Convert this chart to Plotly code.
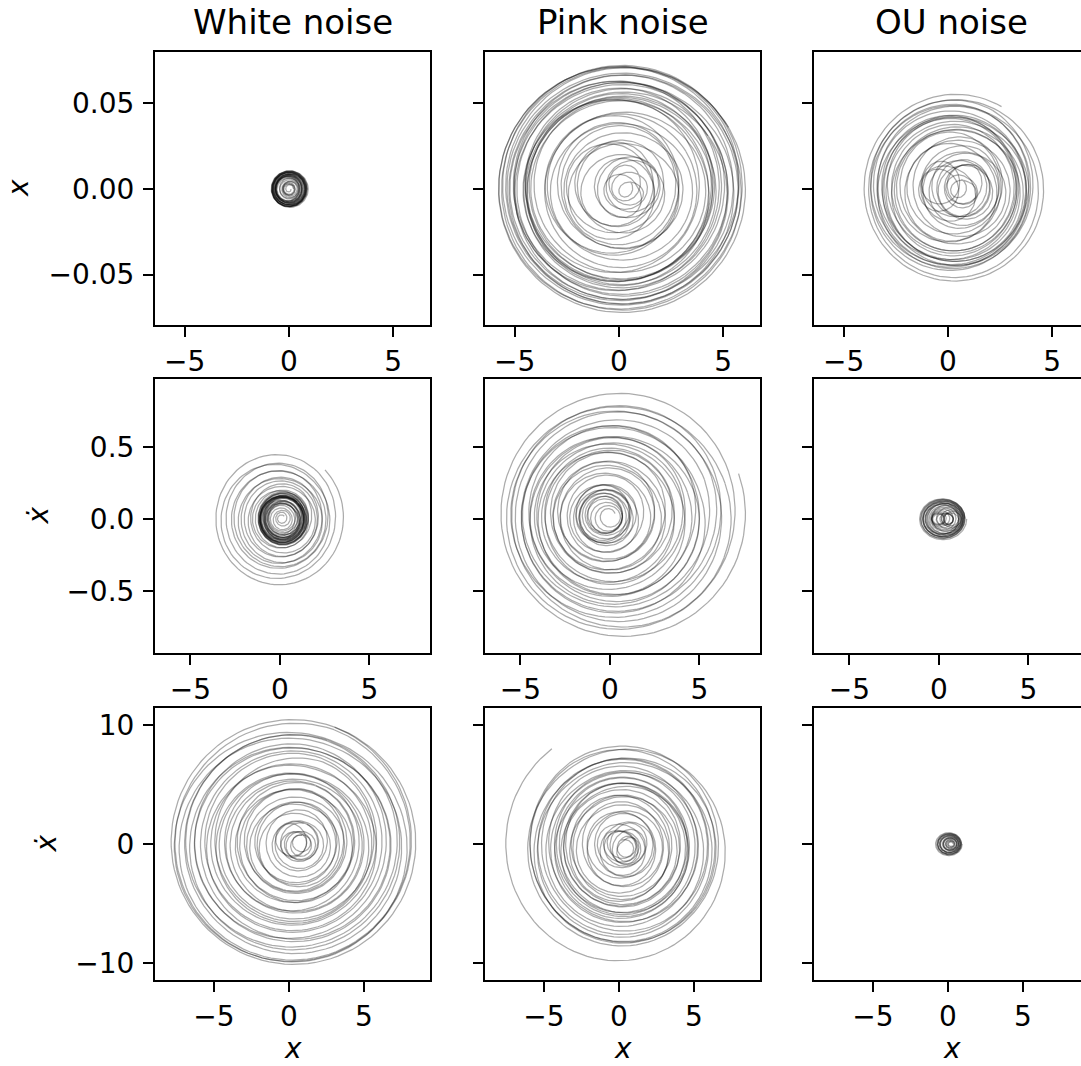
import numpy as np
import plotly.graph_objects as go

# ---------------- text ----------------
TITLES = ["White noise", "Pink noise", "OU noise"]
YLABELS = ["<i>x</i>", "<i>ẋ</i>", "<i>ẋ</i>"]
XLABEL = "<i>x</i>"

X_TICKVALS = [-5, 0, 5]
X_TICKTEXT = ["−5", "0", "5"]
Y_TICKVALS = [[-0.05, 0.0, 0.05], [-0.5, 0.0, 0.5], [-10, 0, 10]]
Y_TICKTEXT = [["−0.05", "0.00", "0.05"], ["−0.5", "0.0", "0.5"], ["−10", "0", "10"]]

# axis ranges (per row)
X_RANGE = [[-6.42, 6.77], [-6.98, 8.38], [-8.93, 9.40]]
Y_RANGE = [[-0.0795, 0.0801], [-0.931, 0.972], [-11.43, 11.43]]

# ---------------- trajectory data ----------------
# per loop: horizontal amplitude (RX), horizontal centre (CX), vertical centre in x-units (CYU)
# row 1
W1_RX = [0.1, 0.25, 0.4, 0.55, 0.7, 0.8, 0.88, 0.84, 0.76, 0.68, 0.6, 0.66, 0.74, 0.82, 0.87, 0.8,
         0.7, 0.62, 0.55, 0.62, 0.72, 0.8, 0.85, 0.78, 0.68, 0.58, 0.5, 0.42, 0.35, 0.3, 0.26, 0.22]
W1_CX = [0.0, 0.05, 0.05, 0.0, -0.05, 0.0, 0.05, 0.05, 0.0, -0.05, 0.0, 0.05, 0.05, 0.0, 0.0, 0.05,
         0.05, 0.0, -0.05, 0.0, 0.05, 0.0, 0.0, 0.05, 0.0, -0.05, 0.0, 0.05, 0.05, 0.0, 0.0, 0.0]
W1_CYU = None
P1_RX = [0.3, 0.6, 0.9, 0.7, 1.1, 1.4, 1.2, 1.7, 2.0, 1.8, 2.3, 2.1, 2.6, 2.9, 2.7, 3.1, 3.4, 3.2,
         3.6, 3.9, 4.1, 4.3, 4.45, 4.5, 4.4, 4.6, 4.5, 4.35, 4.7, 4.9, 5.1, 4.85, 5.3, 5.55, 5.8,
         5.95, 5.75, 5.5, 5.25, 5.0, 5.35, 5.65, 5.9]
P1_CX = [0.3, 0.6, 0.1, 0.7, -0.1, 0.5, 0.8, 0.0, -0.4, 0.4, -0.1, -0.5, 0.3, -0.2, 0.4, -0.3, 0.2,
         -0.4, 0.1, 0.3, -0.3, 0.2, 0.0, -0.2, 0.2, -0.1, 0.2, -0.1, 0.2, 0.3, 0.0, -0.1, 0.2, 0.15,
         0.1, 0.15, 0.0, 0.3, 0.0, 0.2, 0.1, 0.2, 0.15]
P1_CYU = [0.2, -0.3, 0.4, 0.0, -0.4, 0.3, 0.1, -0.2, 0.4, -0.3, 0.2, 0.0, -0.4, 0.3, -0.1, 0.2,
          -0.3, 0.4, 0.0, -0.2, 0.3, -0.1, 0.2, -0.3, 0.1, 0.3, -0.2, 0.0, 0.2, -0.3, 0.1, 0.3,
          -0.2, 0.0, 0.2, -0.1, 0.1, 0.3, -0.2, 0.0, 0.2, -0.1, 0.0]
O1_RX = [0.3, 0.6, 0.9, 0.7, 1.1, 1.4, 1.2, 1.7, 1.5, 1.0, 0.8, 1.3, 1.8, 2.0, 2.3, 2.1, 2.6, 2.4,
         2.9, 3.2, 3.0, 3.4, 3.6, 3.3, 3.7, 3.9, 3.6, 3.2, 2.8, 3.1, 3.5, 3.8, 4.0, 4.2, 4.45]
O1_CX = [0.5, 0.7, 0.8, 0.6, 0.9, 0.8, 0.7, 0.8, 0.6, -0.4, -0.4, -0.2, 0.6, 0.8, 0.4, 0.1, 0.5,
         0.0, 0.4, 0.1, 0.5, -0.1, 0.3, 0.5, 0.0, 0.2, 0.4, 0.1, 0.3, 0.5, 0.2, 0.1, 0.3, 0.35, 0.35]
O1_CYU = [0.2, -0.2, 0.3, -0.1, 0.1, -0.3, 0.2, 0.0, -0.2, 0.3, 0.1, -0.2, 0.3, -0.3, 0.2, 0.0,
          -0.3, 0.3, -0.1, 0.2, -0.3, 0.1, 0.3, -0.2, 0.0, 0.3, -0.3, 0.1, 0.2, -0.2, 0.0, 0.2,
          -0.1, 0.0, 0.0]
# row 2
W2_RX = [3.7, 3.3, 3.0, 2.8, 2.6, 2.45, 2.3, 2.15, 2.0, 1.85, 1.7, 1.55, 1.45, 1.35, 1.25, 1.15,
         1.3, 1.4, 1.2, 1.05, 0.9, 1.1, 1.3, 1.4, 1.25, 1.05, 0.85, 0.7, 0.9, 1.1, 1.3, 1.2, 1.0,
         0.8, 1.0, 1.2, 1.35, 1.15, 0.95, 0.75, 0.6, 0.45, 0.3, 0.2]
W2_CX = [-0.1, -0.15, -0.2, -0.1, 0.0, -0.1, 0.1, 0.0, 0.1, 0.15, 0.1, 0.05, 0.15, 0.2, 0.1, 0.15,
         0.2, 0.1, 0.15, 0.2, 0.1, 0.15, 0.1, 0.2, 0.15, 0.1, 0.2, 0.1, 0.15, 0.2, 0.1, 0.15, 0.2,
         0.15, 0.1, 0.2, 0.15, 0.1, 0.2, 0.15, 0.1, 0.15, 0.1, 0.1]
W2_CYU = [0.0, 0.1, -0.15, 0.2, -0.1, 0.15, -0.2, 0.1, 0.0, -0.15, 0.2, -0.1, 0.1, 0.0, -0.1, 0.1,
          -0.15, 0.1, 0.0, 0.1, -0.1, 0.15, -0.1, 0.05, 0.1, -0.1, 0.1, 0.0, -0.1, 0.1, 0.05, -0.1,
          0.1, 0.0, -0.05, 0.1, -0.1, 0.05, 0.0, 0.1, -0.05, 0.0, 0.05, 0.0]
P2_RX = [6.9, 6.5, 6.2, 5.8, 5.95, 5.5, 5.1, 5.3, 4.9, 4.6, 4.8, 4.4, 4.1, 4.3, 3.9, 3.6, 3.8, 3.4,
         3.1, 3.3, 2.9, 2.6, 2.8, 2.4, 2.1, 1.9, 1.7, 1.5, 1.6, 1.4, 1.2, 1.5, 1.3, 1.0, 0.8, 1.1,
         0.9, 0.6, 0.4]
P2_CX = [0.7, 0.5, 0.6, 0.4, 0.3, 0.5, 0.2, 0.3, 0.1, 0.4, 0.0, 0.2, 0.1, -0.1, 0.2, 0.0, -0.2,
         0.1, 0.0, -0.2, 0.0, -0.1, -0.3, -0.1, -0.2, -0.3, -0.2, -0.4, -0.3, -0.2, -0.3, -0.4,
         -0.2, -0.3, -0.1, -0.4, -0.2, 0.0, -0.1]
P2_CYU = [0.0, 0.3, -0.3, 0.4, -0.2, 0.3, -0.4, 0.2, 0.0, -0.3, 0.4, -0.2, 0.3, -0.4, 0.2, 0.1,
          -0.3, 0.3, -0.2, 0.4, -0.3, 0.1, 0.3, -0.2, 0.2, -0.3, 0.1, 0.2, -0.2, 0.1, 0.0, -0.2,
          0.2, 0.0, -0.1, 0.1, 0.0, -0.1, 0.0]
O2_RX = [1.33, 1.25, 1.2, 1.1, 1.15, 1.0, 0.9, 1.05, 0.95, 0.8, 0.7, 0.6, 0.5, 0.4, 0.35, 0.3, 0.4,
         0.35, 0.3, 0.4, 0.5, 0.6, 0.75, 0.9, 1.0, 1.1, 1.2, 1.25]
O2_CX = [0.22, 0.2, 0.25, 0.3, 0.2, 0.15, 0.2, 0.3, 0.35, 0.3, 0.25, 0.2, 0.1, 0.0, -0.05, 0.0, 0.4,
         0.45, 0.5, 0.7, 0.75, 0.6, 0.5, 0.35, 0.3, 0.25, 0.2, 0.2]
O2_CYU = None
# row 3
W3_RX = [8.3, 8.0, 7.7, 7.9, 7.4, 7.0, 7.2, 6.7, 6.3, 6.6, 6.0, 5.6, 5.8, 5.3, 5.0, 5.4, 4.8, 4.4,
         4.6, 4.1, 3.8, 4.0, 3.5, 3.2, 3.4, 2.9, 2.6, 2.8, 2.3, 2.0, 1.7, 1.4, 1.2, 1.0, 0.8, 1.1,
         0.9, 0.6, 0.5]
W3_CX = [0.2, 0.25, 0.1, 0.3, 0.2, 0.15, 0.3, 0.2, 0.1, 0.25, 0.3, 0.2, 0.1, 0.3, 0.2, 0.4, 0.3,
         0.2, 0.4, 0.3, 0.5, 0.3, 0.4, 0.5, 0.3, 0.5, 0.6, 0.4, 0.5, 0.6, 0.7, 0.5, 0.8, 0.9, 0.4,
         0.0, 0.6, 0.9, 0.7]
W3_CYU = [0.0, 0.3, -0.3, 0.2, -0.4, 0.3, 0.1, -0.3, 0.4, -0.2, 0.2, -0.4, 0.3, 0.0, -0.3, 0.4,
          -0.2, 0.3, -0.3, 0.1, 0.3, -0.4, 0.2, -0.1, 0.3, -0.3, 0.2, 0.0, -0.3, 0.3, -0.2, 0.1,
          0.2, -0.2, 0.0, 0.3, -0.1, 0.0, 0.1]
P3_RX = [7.8, 6.4, 6.3, 6.0, 6.2, 5.8, 5.5, 5.7, 5.2, 4.9, 5.0, 4.6, 4.4, 4.5, 4.2, 4.3, 4.0, 3.8,
         3.9, 3.5, 3.2, 3.4, 3.0, 2.7, 2.5, 2.2, 2.0, 1.8, 1.5, 1.3, 1.1, 1.2, 1.0, 0.8, 0.9, 0.7, 0.5]
P3_CX = [0.0, 0.3, 0.3, 0.4, 0.2, 0.3, 0.4, 0.2, 0.3, 0.2, 0.4, 0.3, 0.1, 0.3, 0.2, 0.4, 0.3, 0.1,
         0.3, 0.2, 0.0, 0.3, 0.1, 0.2, 0.4, 0.0, 0.3, 0.6, -0.1, 0.8, 0.0, 0.9, -0.2, 0.8, 0.0, 0.6, 0.3]
P3_CYU = [0.0, -0.2, 0.3, -0.3, 0.2, -0.4, 0.3, 0.0, -0.3, 0.4, -0.2, 0.3, -0.3, 0.1, 0.3, -0.4,
          0.2, -0.1, 0.3, -0.3, 0.2, 0.0, -0.3, 0.3, -0.2, 0.1, 0.2, -0.2, 0.0, 0.3, -0.1, 0.0,
          0.1, -0.2, 0.2, 0.0, 0.0]
O3_RX = [0.9, 0.85, 0.8, 0.75, 0.8, 0.7, 0.65, 0.6, 0.7, 0.55, 0.5, 0.45, 0.5, 0.4, 0.35, 0.3, 0.25,
         0.2, 0.15]
O3_CX = [0.05, 0.05, 0.1, 0.1, 0.05, 0.1, 0.15, 0.1, 0.05, 0.15, 0.2, 0.15, 0.1, 0.2, 0.2, 0.15,
         0.2, 0.2, 0.2]
O3_CYU = None

# vertical-to-horizontal amplitude ratio, vertical centre, start angle (deg), turning sense
K = [0.0123, 0.0122, 0.0125, 0.13, 0.125, 0.11, 1.26, 1.30, 1.10]
CY = [0.0, 0.0, 0.0, 0.0, 0.02, 0.0, 0.0, -0.3, 0.0]
PHI0 = [0, 30, 60, 45, 20, 0, 70, 125, 0]
SENSE = [-1, -1, -1, -1, -1, -1, -1, 1, -1]

PANELS = [(W1_RX, W1_CX, W1_CYU), (P1_RX, P1_CX, P1_CYU), (O1_RX, O1_CX, O1_CYU),
          (W2_RX, W2_CX, W2_CYU), (P2_RX, P2_CX, P2_CYU), (O2_RX, O2_CX, O2_CYU),
          (W3_RX, W3_CX, W3_CYU), (P3_RX, P3_CX, P3_CYU), (O3_RX, O3_CX, O3_CYU)]

# ---------------- layout geometry (pixels) ----------------
W, H = 1081, 1066
COL_PX = [(155, 430), (485, 760), (814, 1081)]
ROW_PX = [(52, 325), (379, 653), (708, 980)]
FULL_W = 275.0

LINE = dict(color="rgba(0,0,0,0.33)", width=1.25)


def loops(rx, cx, cyu, cy, k, phi0, sense, npts=100):
    out = []
    if cyu is None:
        cyu = [0.0] * len(rx)
    n = min(len(rx), len(cx), len(cyu))
    t = np.linspace(0.0, 1.0, npts)
    for i in range(n - 1):
        r = rx[i] + (rx[i + 1] - rx[i]) * t
        c = cx[i] + (cx[i + 1] - cx[i]) * t
        d = cyu[i] + (cyu[i + 1] - cyu[i]) * t
        phi = np.deg2rad(phi0) + sense * 2 * np.pi * (i + t)
        out.append((c + r * np.cos(phi), cy + k * (d + r * np.sin(phi))))
    return out


fig = go.Figure()
layout = dict(width=W, height=H, margin=dict(l=0, r=0, t=0, b=0),
              paper_bgcolor="white", plot_bgcolor="white",
              font=dict(family="DejaVu Sans", size=28, color="black"),
              showlegend=False)
annotations = []

for p, (rx, cx, cyu) in enumerate(PANELS):
    r, c = divmod(p, 3)
    n = p + 1
    for xs, ys in loops(rx, cx, cyu, CY[p], K[p], PHI0[p], SENSE[p]):
        fig.add_trace(go.Scatter(x=xs, y=ys, mode="lines", line=LINE,
                                 xaxis=f"x{n}", yaxis=f"y{n}", hoverinfo="skip",
                                 showlegend=False))
    x0, x1 = COL_PX[c]
    y0, y1 = ROW_PX[r]
    xr = list(X_RANGE[r])
    if (x1 - x0) < FULL_W:
        xr[1] = xr[0] + (xr[1] - xr[0]) * (x1 - x0) / FULL_W
    common = dict(showline=True, linecolor="black", linewidth=2, ticks="outside",
                  ticklen=10, tickwidth=2, tickcolor="black", showgrid=False,
                  zeroline=False, fixedrange=True,
                  tickfont=dict(family="DejaVu Sans", size=28, color="black"))
    layout[f"xaxis{n}"] = dict(common, domain=[x0 / W, x1 / W], anchor=f"y{n}",
                               range=xr, tickvals=X_TICKVALS, ticktext=X_TICKTEXT,
                               mirror=True)
    layout[f"yaxis{n}"] = dict(common, domain=[1 - y1 / H, 1 - y0 / H], anchor=f"x{n}",
                               range=Y_RANGE[r], tickvals=Y_TICKVALS[r],
                               ticktext=Y_TICKTEXT[r], showticklabels=(c == 0),
                               mirror=(c != 2), ticklabelstandoff=3)

# titles
for c, t in enumerate(TITLES):
    cxp = (COL_PX[c][0] + (COL_PX[c][0] + FULL_W)) / 2
    annotations.append(dict(text=t, x=cxp / W, y=1 - 22 / H, xref="paper", yref="paper",
                            xanchor="center", yanchor="middle", showarrow=False,
                            font=dict(family="DejaVu Sans", size=34, color="black")))
# y labels
YLAB_X = [18.5, 37.5, 45.5]
for r, t in enumerate(YLABELS):
    yc = (ROW_PX[r][0] + ROW_PX[r][1]) / 2
    annotations.append(dict(text=t, x=YLAB_X[r] / W, y=1 - yc / H, xref="paper", yref="paper",
                            xanchor="center", yanchor="middle", textangle=-90, showarrow=False,
                            font=dict(family="DejaVu Sans", size=28, color="black")))
# x labels
for c in range(3):
    cxp = (COL_PX[c][0] + (COL_PX[c][0] + FULL_W)) / 2
    annotations.append(dict(text=XLABEL, x=cxp / W, y=1 - 1048 / H, xref="paper", yref="paper",
                            xanchor="center", yanchor="middle", showarrow=False,
                            font=dict(family="DejaVu Sans", size=28, color="black")))

layout["annotations"] = annotations
fig.update_layout(**layout)
fig.write_html("out.html")
